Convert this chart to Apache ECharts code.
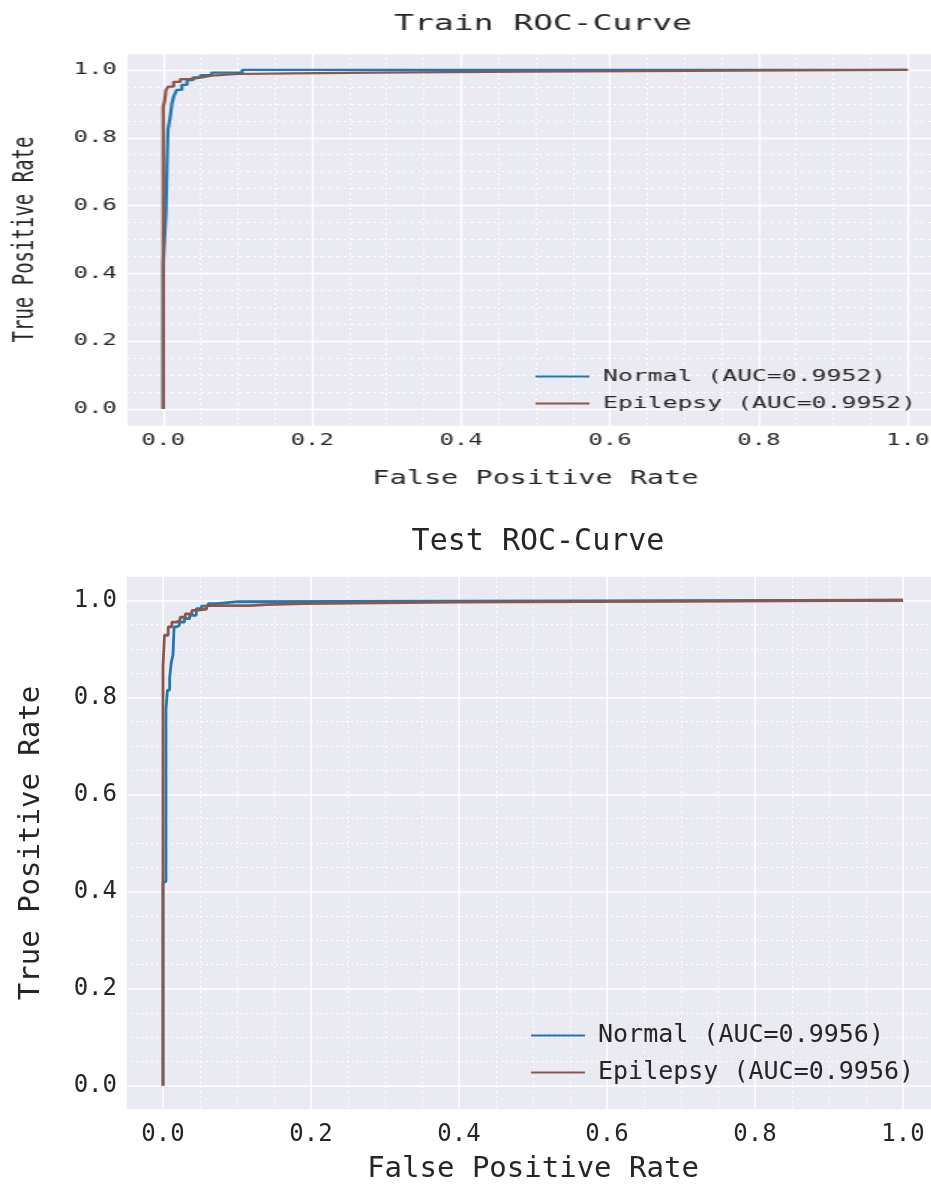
<!DOCTYPE html>
<html>
<head>
<meta charset="utf-8">
<title>ROC-Curve</title>
<script src="https://cdn.jsdelivr.net/npm/echarts@6/dist/echarts.min.js"></script>
<style>
html, body { margin: 0; padding: 0; background: #fff; overflow: hidden; width: 931px; height: 1185px; }
/* the train figure is a horizontally stretched picture, so stretch its canvas too */
#trainChart { position: absolute; left: 0; top: 0; width: 629.5px; height: 500px; transform: scaleX(1.5); transform-origin: 0 0; }
#testChart { position: absolute; left: 0; top: 500px; width: 940px; height: 685px; }
</style>
</head>
<body>
<div id="trainChart"></div>
<div id="testChart"></div>
<script>
// 数据 (step points: fpr reached, then tpr reached)
var trainNormalFpr = [0, 0, 0.0036, 0.005, 0.0063, 0.0094, 0.0117, 0.014, 0.018, 0.025, 0.032, 0.04, 0.05, 0.065, 0.106, 1.0];
var trainNormalTpr = [0, 0.43, 0.578, 0.715, 0.823, 0.862, 0.902, 0.921, 0.941, 0.956, 0.97, 0.978, 0.985, 0.992, 1.0, 1.0];
var trainEpiFpr = [0, 0, 0.002, 0.0036, 0.007, 0.014, 0.023, 0.036, 0.052, 0.065, 0.1, 0.175, 0.28, 0.485, 1.0];
var trainEpiTpr = [0, 0.892, 0.91, 0.941, 0.951, 0.965, 0.973, 0.978, 0.983, 0.988, 0.99, 0.992, 0.995, 1.0, 1.0];

var testNormalFpr = [0, 0, 0.004, 0.006, 0.009, 0.011, 0.0135, 0.015, 0.018, 0.022, 0.029, 0.036, 0.045, 0.052, 0.061, 0.072, 0.102, 1.0];
var testNormalTpr = [0, 0.42, 0.775, 0.815, 0.84, 0.87, 0.888, 0.945, 0.948, 0.955, 0.962, 0.969, 0.983, 0.988, 0.993, 0.997, 1.0, 1.0];
var testEpiFpr = [0, 0, 0.002, 0.007, 0.012, 0.018, 0.023, 0.03, 0.039, 0.045, 0.059, 0.118, 0.14, 0.19, 0.395, 1.0];
var testEpiTpr = [0, 0.863, 0.928, 0.945, 0.955, 0.958, 0.965, 0.972, 0.979, 0.982, 0.989, 0.991, 0.993, 0.996, 1.0, 1.0];

var trainNames = ['Normal (AUC=0.9952)', 'Epilepsy (AUC=0.9952)'];
var testNames = ['Normal (AUC=0.9956)', 'Epilepsy (AUC=0.9956)'];
var colors = ['#1f77b4', '#8c564b'];

function zip(xs, ys) {
	var out = [];
	for (var i = 0; i < xs.length; i++) {
		out.push([xs[i], ys[i]]);
	}
	return out;
}

function makeOption(c) {
	var font = 'DejaVu Sans Mono';
	var axisCommon = function(name, isX) {
		return {
			type : 'value',
			min : -0.05,
			max : 1.05,
			splitNumber : 5,
			name : name,
			nameLocation : 'middle',
			nameGap : isX ? c.xNameGap : c.yNameGap,
			nameTextStyle : { fontFamily : font, fontSize : c.nameSize, color : '#262626' },
			axisLine : { show : false },
			axisTick : { show : false },
			axisLabel : {
				show : true,
				showMinLabel : false,
				showMaxLabel : false,
				margin : isX ? c.xLabelMargin : c.yLabelMargin,
				fontFamily : font,
				fontSize : c.tickSize,
				color : '#262626',
				formatter : function(v) { return v.toFixed(1); }
			},
			splitLine : { show : true, lineStyle : { color : '#ffffff', width : c.gridWidth } },
			minorTick : { show : false, splitNumber : 4 },
			minorSplitLine : { show : true, lineStyle : { color : '#ffffff', width : 1, type : [2, 3] } }
		};
	};
	return {
		animation : false,
		color : colors,
		title : {
			text : c.title,
			left : c.titleX,
			top : c.titleTop,
			textAlign : 'center',
			textStyle : { fontFamily : font, fontSize : c.titleSize, fontWeight : 'normal', color : '#262626' }
		},
		grid : {
			show : true,
			backgroundColor : '#EAEAF2',
			borderWidth : 0,
			outerBoundsMode : 'none', // keep the grid where it is put, labels may go near the edge
			left : c.left,
			right : 0,
			top : c.top,
			bottom : c.bottom
		},
		legend : {
			orient : 'vertical',
			left : c.legendLeft,
			top : c.legendTop,
			icon : 'rect',
			itemWidth : c.legendLine,
			itemHeight : 2,
			itemGap : c.legendGap,
			textStyle : { fontFamily : font, fontSize : c.legendSize, color : '#262626', padding : [0, 0, 0, c.legendTextPad] },
			data : c.names
		},
		xAxis : axisCommon('False Positive Rate', true),
		yAxis : axisCommon('True Positive Rate', false),
		series : [ {
			name : c.names[0],
			type : 'line',
			step : 'end',
			symbol : 'none',
			lineStyle : { width : c.lineWidth, color : colors[0] },
			itemStyle : { color : colors[0] },
			data : c.normal
		}, {
			name : c.names[1],
			type : 'line',
			step : 'end',
			symbol : 'none',
			lineStyle : { width : c.lineWidth, color : colors[1] },
			itemStyle : { color : colors[1] },
			data : c.epilepsy
		} ]
	};
}

// Train (coordinates before the 1.5x horizontal stretch)
echarts.init(document.getElementById('trainChart')).setOption(makeOption({
	title : 'Train ROC-Curve', titleX : 357, titleTop : 8, titleSize : 22,
	left : 84, top : 53, bottom : 74,
	tickSize : 16, nameSize : 19, xNameGap : 44, yNameGap : 57,
	xLabelMargin : 7, yLabelMargin : 6, gridWidth : 1.3,
	legendLeft : 352, legendTop : 363, legendLine : 36, legendGap : 10, legendSize : 16.5, legendTextPad : 4,
	lineWidth : 2.2,
	names : trainNames,
	normal : zip(trainNormalFpr, trainNormalTpr),
	epilepsy : zip(trainEpiFpr, trainEpiTpr)
}));

// Test
echarts.init(document.getElementById('testChart')).setOption(makeOption({
	title : 'Test ROC-Curve', titleX : 533, titleTop : 22, titleSize : 30,
	left : 126, top : 76, bottom : 75,
	tickSize : 24, nameSize : 29, xNameGap : 45, yNameGap : 80,
	xLabelMargin : 13, yLabelMargin : 9, gridWidth : 1.5,
	legendLeft : 526, legendTop : 518, legendLine : 54, legendGap : 12, legendSize : 25, legendTextPad : 8,
	lineWidth : 2.8,
	names : testNames,
	normal : zip(testNormalFpr, testNormalTpr),
	epilepsy : zip(testEpiFpr, testEpiTpr)
}));
</script>
</body>
</html>
